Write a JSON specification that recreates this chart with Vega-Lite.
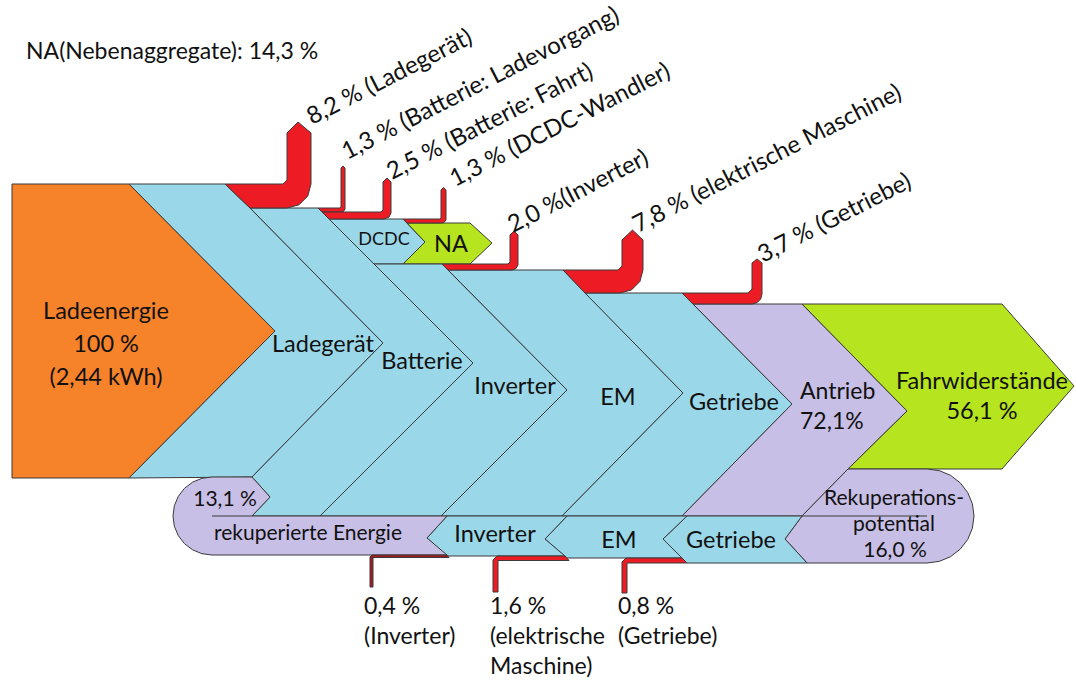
{
"$schema":"https://vega.github.io/schema/vega-lite/v6.json",
"width":1076,"height":682,"padding":0,
"autosize":{"type":"fit","contains":"padding"},
"background":"#ffffff",
"config":{"view":{"stroke":null},"text":{"font":"Lato","color":"#111111"}},
"datasets":{
"flaechen":[
{"s":"Ladeenergie","k":"Quelle","i":0,"x":12,"y":184},{"s":"Ladeenergie","k":"Quelle","i":1,"x":129,"y":184},{"s":"Ladeenergie","k":"Quelle","i":2,"x":275,"y":331},{"s":"Ladeenergie","k":"Quelle","i":3,"x":129,"y":478},{"s":"Ladeenergie","k":"Quelle","i":4,"x":12,"y":478},{"s":"Ladeenergie","k":"Quelle","i":5,"x":12,"y":184},
{"s":"Ladegeraet","k":"Komponente","i":0,"x":129,"y":184},{"s":"Ladegeraet","k":"Komponente","i":1,"x":225,"y":184},{"s":"Ladegeraet","k":"Komponente","i":2,"x":250,"y":208},{"s":"Ladegeraet","k":"Komponente","i":3,"x":383,"y":343},{"s":"Ladegeraet","k":"Komponente","i":4,"x":252,"y":477},{"s":"Ladegeraet","k":"Komponente","i":5,"x":129,"y":478},{"s":"Ladegeraet","k":"Komponente","i":6,"x":275,"y":331},{"s":"Ladegeraet","k":"Komponente","i":7,"x":129,"y":184},
{"s":"Batterie","k":"Komponente","i":0,"x":250,"y":208},{"s":"Batterie","k":"Komponente","i":1,"x":318,"y":208},{"s":"Batterie","k":"Komponente","i":2,"x":473,"y":363},{"s":"Batterie","k":"Komponente","i":3,"x":320,"y":516},{"s":"Batterie","k":"Komponente","i":4,"x":252,"y":516},{"s":"Batterie","k":"Komponente","i":5,"x":270,"y":497},{"s":"Batterie","k":"Komponente","i":6,"x":252,"y":477},{"s":"Batterie","k":"Komponente","i":7,"x":383,"y":343},{"s":"Batterie","k":"Komponente","i":8,"x":250,"y":208},
{"s":"DCDC","k":"Komponente","i":0,"x":329,"y":219},{"s":"DCDC","k":"Komponente","i":1,"x":403,"y":219},{"s":"DCDC","k":"Komponente","i":2,"x":425,"y":242},{"s":"DCDC","k":"Komponente","i":3,"x":403,"y":264},{"s":"DCDC","k":"Komponente","i":4,"x":374,"y":264},{"s":"DCDC","k":"Komponente","i":5,"x":329,"y":219},
{"s":"NA","k":"Nutzen","i":0,"x":407,"y":223},{"s":"NA","k":"Nutzen","i":1,"x":470,"y":223},{"s":"NA","k":"Nutzen","i":2,"x":492,"y":243},{"s":"NA","k":"Nutzen","i":3,"x":470,"y":264},{"s":"NA","k":"Nutzen","i":4,"x":403,"y":264},{"s":"NA","k":"Nutzen","i":5,"x":425,"y":242},{"s":"NA","k":"Nutzen","i":6,"x":407,"y":223},
{"s":"Inverter","k":"Komponente","i":0,"x":374,"y":264},{"s":"Inverter","k":"Komponente","i":1,"x":442,"y":264},{"s":"Inverter","k":"Komponente","i":2,"x":567,"y":390},{"s":"Inverter","k":"Komponente","i":3,"x":441,"y":516},{"s":"Inverter","k":"Komponente","i":4,"x":320,"y":516},{"s":"Inverter","k":"Komponente","i":5,"x":473,"y":363},{"s":"Inverter","k":"Komponente","i":6,"x":374,"y":264},
{"s":"EM","k":"Komponente","i":0,"x":448,"y":270},{"s":"EM","k":"Komponente","i":1,"x":563,"y":270},{"s":"EM","k":"Komponente","i":2,"x":683,"y":393},{"s":"EM","k":"Komponente","i":3,"x":562,"y":516},{"s":"EM","k":"Komponente","i":4,"x":441,"y":516},{"s":"EM","k":"Komponente","i":5,"x":567,"y":390},{"s":"EM","k":"Komponente","i":6,"x":448,"y":270},
{"s":"Getriebe","k":"Komponente","i":0,"x":585,"y":293},{"s":"Getriebe","k":"Komponente","i":1,"x":682,"y":293},{"s":"Getriebe","k":"Komponente","i":2,"x":792,"y":404},{"s":"Getriebe","k":"Komponente","i":3,"x":682,"y":516},{"s":"Getriebe","k":"Komponente","i":4,"x":562,"y":516},{"s":"Getriebe","k":"Komponente","i":5,"x":683,"y":393},{"s":"Getriebe","k":"Komponente","i":6,"x":585,"y":293},
{"s":"Antrieb","k":"Antrieb","i":0,"x":693,"y":304},{"s":"Antrieb","k":"Antrieb","i":1,"x":802,"y":304},{"s":"Antrieb","k":"Antrieb","i":2,"x":907,"y":411},{"s":"Antrieb","k":"Antrieb","i":3,"x":848,"y":469},{"s":"Antrieb","k":"Antrieb","i":4,"x":802,"y":516},{"s":"Antrieb","k":"Antrieb","i":5,"x":682,"y":516},{"s":"Antrieb","k":"Antrieb","i":6,"x":792,"y":404},{"s":"Antrieb","k":"Antrieb","i":7,"x":693,"y":304},
{"s":"Fahrwiderstaende","k":"Nutzen","i":0,"x":802,"y":304},{"s":"Fahrwiderstaende","k":"Nutzen","i":1,"x":1002,"y":304},{"s":"Fahrwiderstaende","k":"Nutzen","i":2,"x":1074,"y":386},{"s":"Fahrwiderstaende","k":"Nutzen","i":3,"x":1002,"y":469},{"s":"Fahrwiderstaende","k":"Nutzen","i":4,"x":848,"y":469},{"s":"Fahrwiderstaende","k":"Nutzen","i":5,"x":907,"y":411},{"s":"Fahrwiderstaende","k":"Nutzen","i":6,"x":802,"y":304},
{"s":"Rekuperationspotential","k":"Antrieb","i":0,"x":848,"y":469},{"s":"Rekuperationspotential","k":"Antrieb","i":1,"x":927,"y":469},{"s":"Rekuperationspotential","k":"Antrieb","i":2,"x":939.2,"y":470.6},{"s":"Rekuperationspotential","k":"Antrieb","i":3,"x":950.5,"y":475.3},{"s":"Rekuperationspotential","k":"Antrieb","i":4,"x":960.2,"y":482.8},{"s":"Rekuperationspotential","k":"Antrieb","i":5,"x":967.7,"y":492.5},{"s":"Rekuperationspotential","k":"Antrieb","i":6,"x":972.4,"y":503.8},{"s":"Rekuperationspotential","k":"Antrieb","i":7,"x":974,"y":516},{"s":"Rekuperationspotential","k":"Antrieb","i":8,"x":972.4,"y":528.2},{"s":"Rekuperationspotential","k":"Antrieb","i":9,"x":967.7,"y":539.5},{"s":"Rekuperationspotential","k":"Antrieb","i":10,"x":960.2,"y":549.2},{"s":"Rekuperationspotential","k":"Antrieb","i":11,"x":950.5,"y":556.7},{"s":"Rekuperationspotential","k":"Antrieb","i":12,"x":939.2,"y":561.4},{"s":"Rekuperationspotential","k":"Antrieb","i":13,"x":927,"y":563},{"s":"Rekuperationspotential","k":"Antrieb","i":14,"x":807,"y":563},{"s":"Rekuperationspotential","k":"Antrieb","i":15,"x":785,"y":539},{"s":"Rekuperationspotential","k":"Antrieb","i":16,"x":802,"y":516},{"s":"Rekuperationspotential","k":"Antrieb","i":17,"x":848,"y":469},
{"s":"GetriebeR","k":"Komponente","i":0,"x":687,"y":516},{"s":"GetriebeR","k":"Komponente","i":1,"x":802,"y":516},{"s":"GetriebeR","k":"Komponente","i":2,"x":785,"y":539},{"s":"GetriebeR","k":"Komponente","i":3,"x":807,"y":563},{"s":"GetriebeR","k":"Komponente","i":4,"x":687,"y":563},{"s":"GetriebeR","k":"Komponente","i":5,"x":663,"y":539},{"s":"GetriebeR","k":"Komponente","i":6,"x":687,"y":516},
{"s":"EMR","k":"Komponente","i":0,"x":567,"y":516},{"s":"EMR","k":"Komponente","i":1,"x":687,"y":516},{"s":"EMR","k":"Komponente","i":2,"x":663,"y":539},{"s":"EMR","k":"Komponente","i":3,"x":682,"y":558},{"s":"EMR","k":"Komponente","i":4,"x":567,"y":558},{"s":"EMR","k":"Komponente","i":5,"x":545,"y":539},{"s":"EMR","k":"Komponente","i":6,"x":567,"y":516},
{"s":"InverterR","k":"Komponente","i":0,"x":447,"y":516},{"s":"InverterR","k":"Komponente","i":1,"x":567,"y":516},{"s":"InverterR","k":"Komponente","i":2,"x":545,"y":539},{"s":"InverterR","k":"Komponente","i":3,"x":565,"y":556},{"s":"InverterR","k":"Komponente","i":4,"x":447,"y":556},{"s":"InverterR","k":"Komponente","i":5,"x":427,"y":538},{"s":"InverterR","k":"Komponente","i":6,"x":447,"y":516},
{"s":"RekupEnergie","k":"Antrieb","i":0,"x":252,"y":477},{"s":"RekupEnergie","k":"Antrieb","i":1,"x":270,"y":497},{"s":"RekupEnergie","k":"Antrieb","i":2,"x":252,"y":516},{"s":"RekupEnergie","k":"Antrieb","i":3,"x":447,"y":516},{"s":"RekupEnergie","k":"Antrieb","i":4,"x":427,"y":538},{"s":"RekupEnergie","k":"Antrieb","i":5,"x":447,"y":555},{"s":"RekupEnergie","k":"Antrieb","i":6,"x":212,"y":555},{"s":"RekupEnergie","k":"Antrieb","i":7,"x":201.9,"y":553.7},{"s":"RekupEnergie","k":"Antrieb","i":8,"x":192.5,"y":549.8},{"s":"RekupEnergie","k":"Antrieb","i":9,"x":184.4,"y":543.6},{"s":"RekupEnergie","k":"Antrieb","i":10,"x":178.2,"y":535.5},{"s":"RekupEnergie","k":"Antrieb","i":11,"x":174.3,"y":526.1},{"s":"RekupEnergie","k":"Antrieb","i":12,"x":173,"y":516},{"s":"RekupEnergie","k":"Antrieb","i":13,"x":174.3,"y":505.9},{"s":"RekupEnergie","k":"Antrieb","i":14,"x":178.2,"y":496.5},{"s":"RekupEnergie","k":"Antrieb","i":15,"x":184.4,"y":488.4},{"s":"RekupEnergie","k":"Antrieb","i":16,"x":192.5,"y":482.2},{"s":"RekupEnergie","k":"Antrieb","i":17,"x":201.9,"y":478.3},{"s":"RekupEnergie","k":"Antrieb","i":18,"x":212,"y":477},{"s":"RekupEnergie","k":"Antrieb","i":19,"x":252,"y":477}
],
"verluste":[
{"s":"V1","k":"Verlust","i":0,"x":225,"y":184},{"s":"V1","k":"Verlust","i":1,"x":283,"y":184},{"s":"V1","k":"Verlust","i":2,"x":287,"y":180},{"s":"V1","k":"Verlust","i":3,"x":287,"y":133},{"s":"V1","k":"Verlust","i":4,"x":298,"y":122},{"s":"V1","k":"Verlust","i":5,"x":311,"y":133},{"s":"V1","k":"Verlust","i":6,"x":311,"y":184},{"s":"V1","k":"Verlust","i":7,"x":307.8,"y":196},{"s":"V1","k":"Verlust","i":8,"x":299,"y":204.8},{"s":"V1","k":"Verlust","i":9,"x":287,"y":208},{"s":"V1","k":"Verlust","i":10,"x":250,"y":208},{"s":"V1","k":"Verlust","i":11,"x":225,"y":184},
{"s":"V2","k":"Verlust","i":0,"x":318,"y":208},{"s":"V2","k":"Verlust","i":1,"x":340,"y":208},{"s":"V2","k":"Verlust","i":2,"x":341,"y":207},{"s":"V2","k":"Verlust","i":3,"x":341,"y":168},{"s":"V2","k":"Verlust","i":4,"x":343,"y":166},{"s":"V2","k":"Verlust","i":5,"x":345,"y":168},{"s":"V2","k":"Verlust","i":6,"x":345,"y":209},{"s":"V2","k":"Verlust","i":7,"x":343.5,"y":211.5},{"s":"V2","k":"Verlust","i":8,"x":340,"y":212},{"s":"V2","k":"Verlust","i":9,"x":322,"y":212},{"s":"V2","k":"Verlust","i":10,"x":318,"y":208},
{"s":"V3","k":"Verlust","i":0,"x":322,"y":212},{"s":"V3","k":"Verlust","i":1,"x":381,"y":212},{"s":"V3","k":"Verlust","i":2,"x":383,"y":210},{"s":"V3","k":"Verlust","i":3,"x":383,"y":182},{"s":"V3","k":"Verlust","i":4,"x":387,"y":178},{"s":"V3","k":"Verlust","i":5,"x":391,"y":182},{"s":"V3","k":"Verlust","i":6,"x":391,"y":213},{"s":"V3","k":"Verlust","i":7,"x":389,"y":217},{"s":"V3","k":"Verlust","i":8,"x":384,"y":219},{"s":"V3","k":"Verlust","i":9,"x":329,"y":219},{"s":"V3","k":"Verlust","i":10,"x":322,"y":212},
{"s":"V4","k":"Verlust","i":0,"x":403,"y":219},{"s":"V4","k":"Verlust","i":1,"x":440,"y":219},{"s":"V4","k":"Verlust","i":2,"x":441,"y":218},{"s":"V4","k":"Verlust","i":3,"x":441,"y":190},{"s":"V4","k":"Verlust","i":4,"x":443.5,"y":187.5},{"s":"V4","k":"Verlust","i":5,"x":446,"y":190},{"s":"V4","k":"Verlust","i":6,"x":446,"y":220},{"s":"V4","k":"Verlust","i":7,"x":444,"y":222.5},{"s":"V4","k":"Verlust","i":8,"x":441,"y":223},{"s":"V4","k":"Verlust","i":9,"x":407,"y":223},{"s":"V4","k":"Verlust","i":10,"x":403,"y":219},
{"s":"V5","k":"Verlust","i":0,"x":442,"y":264},{"s":"V5","k":"Verlust","i":1,"x":508,"y":264},{"s":"V5","k":"Verlust","i":2,"x":510,"y":262},{"s":"V5","k":"Verlust","i":3,"x":510,"y":235},{"s":"V5","k":"Verlust","i":4,"x":514,"y":231},{"s":"V5","k":"Verlust","i":5,"x":518,"y":235},{"s":"V5","k":"Verlust","i":6,"x":518,"y":265},{"s":"V5","k":"Verlust","i":7,"x":516,"y":268.5},{"s":"V5","k":"Verlust","i":8,"x":512,"y":270},{"s":"V5","k":"Verlust","i":9,"x":448,"y":270},{"s":"V5","k":"Verlust","i":10,"x":442,"y":264},
{"s":"V6","k":"Verlust","i":0,"x":563,"y":270},{"s":"V6","k":"Verlust","i":1,"x":618,"y":270},{"s":"V6","k":"Verlust","i":2,"x":622,"y":266},{"s":"V6","k":"Verlust","i":3,"x":622,"y":240},{"s":"V6","k":"Verlust","i":4,"x":632.5,"y":230},{"s":"V6","k":"Verlust","i":5,"x":643,"y":240},{"s":"V6","k":"Verlust","i":6,"x":643,"y":270},{"s":"V6","k":"Verlust","i":7,"x":639.9,"y":281.5},{"s":"V6","k":"Verlust","i":8,"x":631.5,"y":289.9},{"s":"V6","k":"Verlust","i":9,"x":620,"y":293},{"s":"V6","k":"Verlust","i":10,"x":585,"y":293},{"s":"V6","k":"Verlust","i":11,"x":563,"y":270},
{"s":"V7","k":"Verlust","i":0,"x":682,"y":293},{"s":"V7","k":"Verlust","i":1,"x":748,"y":293},{"s":"V7","k":"Verlust","i":2,"x":752,"y":289},{"s":"V7","k":"Verlust","i":3,"x":752,"y":263},{"s":"V7","k":"Verlust","i":4,"x":757,"y":259},{"s":"V7","k":"Verlust","i":5,"x":762,"y":263},{"s":"V7","k":"Verlust","i":6,"x":762,"y":294},{"s":"V7","k":"Verlust","i":7,"x":760.7,"y":299},{"s":"V7","k":"Verlust","i":8,"x":757,"y":302.7},{"s":"V7","k":"Verlust","i":9,"x":752,"y":304},{"s":"V7","k":"Verlust","i":10,"x":693,"y":304},{"s":"V7","k":"Verlust","i":11,"x":682,"y":293},
{"s":"V8","k":"Verlust klein","i":0,"x":370,"y":587},{"s":"V8","k":"Verlust klein","i":1,"x":370,"y":557},{"s":"V8","k":"Verlust klein","i":2,"x":372,"y":555},{"s":"V8","k":"Verlust klein","i":3,"x":447,"y":555},{"s":"V8","k":"Verlust klein","i":4,"x":449,"y":557.5},{"s":"V8","k":"Verlust klein","i":5,"x":373,"y":557.5},{"s":"V8","k":"Verlust klein","i":6,"x":373,"y":587},{"s":"V8","k":"Verlust klein","i":7,"x":370,"y":587},
{"s":"V9","k":"Verlust","i":0,"x":493,"y":592},{"s":"V9","k":"Verlust","i":1,"x":493,"y":560},{"s":"V9","k":"Verlust","i":2,"x":497,"y":556},{"s":"V9","k":"Verlust","i":3,"x":565,"y":556},{"s":"V9","k":"Verlust","i":4,"x":569,"y":560.5},{"s":"V9","k":"Verlust","i":5,"x":498,"y":560.5},{"s":"V9","k":"Verlust","i":6,"x":498,"y":592},{"s":"V9","k":"Verlust","i":7,"x":493,"y":592},
{"s":"V10","k":"Verlust","i":0,"x":622,"y":593},{"s":"V10","k":"Verlust","i":1,"x":622,"y":562},{"s":"V10","k":"Verlust","i":2,"x":626,"y":558},{"s":"V10","k":"Verlust","i":3,"x":682,"y":558},{"s":"V10","k":"Verlust","i":4,"x":687,"y":563},{"s":"V10","k":"Verlust","i":5,"x":627,"y":563},{"s":"V10","k":"Verlust","i":6,"x":627,"y":593},{"s":"V10","k":"Verlust","i":7,"x":622,"y":593}
],
"linien":[
{"s":"L1","i":0,"x":212,"y":516},{"s":"L1","i":1,"x":252,"y":516},
{"s":"L2","i":0,"x":802,"y":516},{"s":"L2","i":1,"x":927,"y":516}
],
"texte":[
{"g":"haupt","t":"Ladeenergie","x":106,"y":312},
{"g":"haupt","t":"100 %","x":106,"y":345},
{"g":"haupt","t":"(2,44 kWh)","x":106,"y":378},
{"g":"haupt","t":"Ladegerät","x":323,"y":345},
{"g":"haupt","t":"Batterie","x":422,"y":362},
{"g":"haupt","t":"Inverter","x":515,"y":387},
{"g":"haupt","t":"EM","x":618,"y":398},
{"g":"haupt","t":"Getriebe","x":734,"y":403},
{"g":"haupt","t":"Fahrwiderstände","x":982,"y":382},
{"g":"haupt","t":"56,1 %","x":982,"y":412},
{"g":"haupt","t":"NA","x":451,"y":245},
{"g":"haupt","t":"Inverter","x":495,"y":535},
{"g":"haupt","t":"EM","x":619,"y":541},
{"g":"haupt","t":"Getriebe","x":731,"y":541},
{"g":"mittel","t":"rekuperierte Energie","x":308,"y":534},
{"g":"links","t":"NA(Nebenaggregate): 14,3 %","x":26,"y":52},
{"g":"links","t":"Antrieb","x":800,"y":392},
{"g":"links","t":"72,1%","x":800,"y":422},
{"g":"links","t":"0,4 %","x":364,"y":607},
{"g":"links","t":"(Inverter)","x":364,"y":637},
{"g":"links","t":"1,6 %","x":490,"y":607},
{"g":"links","t":"(elektrische","x":490,"y":637},
{"g":"links","t":"Maschine)","x":490,"y":667},
{"g":"links","t":"0,8 %","x":618,"y":607},
{"g":"links","t":"(Getriebe)","x":618,"y":637},
{"g":"dcdc","t":"DCDC","x":384,"y":240},
{"g":"mittel","t":"13,1 %","x":225,"y":500},
{"g":"mittel","t":"Rekuperations-","x":894,"y":499},
{"g":"mittel","t":"potential","x":894,"y":525},
{"g":"mittel","t":"16,0 %","x":895,"y":551},
{"g":"rot","t":"8,2 % (Ladegerät)","x":312,"y":125},
{"g":"rot","t":"1,3 % (Batterie: Ladevorgang)","x":347,"y":160},
{"g":"rot","t":"2,5 % (Batterie: Fahrt)","x":392,"y":180},
{"g":"rot","t":"1,3 % (DCDC-Wandler)","x":455,"y":187},
{"g":"rot","t":"2,0 %(Inverter)","x":513,"y":233},
{"g":"rot","t":"7,8 % (elektrische Maschine)","x":638,"y":233},
{"g":"rot","t":"3,7 % (Getriebe)","x":763,"y":263}
]
},
"encoding":{
"x":{"field":"x","type":"quantitative","scale":{"domain":[0,1076],"nice":false,"zero":false},"axis":null},
"y":{"field":"y","type":"quantitative","scale":{"domain":[0,682],"nice":false,"zero":false,"reverse":true},"axis":null}
},
"layer":[
{"data":{"name":"flaechen"},
 "mark":{"type":"line","stroke":"#3a3a3a","strokeWidth":1,"strokeJoin":"miter"},
 "encoding":{"detail":{"field":"s","type":"nominal"},"order":{"field":"i","type":"quantitative"},
  "fill":{"field":"k","type":"nominal","legend":null,"scale":{"domain":["Quelle","Komponente","Antrieb","Nutzen","Verlust","Verlust klein"],"range":["#F6822A","#9AD8E9","#C8BFE6","#B6E41E","#ED1C24","#A3191F"]}}}},
{"data":{"name":"linien"},
 "mark":{"type":"line","stroke":"#3a3a3a","strokeWidth":1},
 "encoding":{"detail":{"field":"s","type":"nominal"},"order":{"field":"i","type":"quantitative"}}},
{"data":{"name":"verluste"},
 "mark":{"type":"line","stroke":"#3a3a3a","strokeWidth":1,"strokeJoin":"miter"},
 "encoding":{"detail":{"field":"s","type":"nominal"},"order":{"field":"i","type":"quantitative"},
  "fill":{"field":"k","type":"nominal","legend":null,"scale":{"domain":["Quelle","Komponente","Antrieb","Nutzen","Verlust","Verlust klein"],"range":["#F6822A","#9AD8E9","#C8BFE6","#B6E41E","#ED1C24","#A3191F"]}}}},
{"data":{"name":"texte"},"transform":[{"filter":"datum.g == 'haupt'"}],
 "mark":{"type":"text","fontSize":23.5,"align":"center","baseline":"middle"},
 "encoding":{"text":{"field":"t"}}},
{"data":{"name":"texte"},"transform":[{"filter":"datum.g == 'links'"}],
 "mark":{"type":"text","fontSize":23,"align":"left","baseline":"middle"},
 "encoding":{"text":{"field":"t"}}},
{"data":{"name":"texte"},"transform":[{"filter":"datum.g == 'mittel'"}],
 "mark":{"type":"text","fontSize":21,"align":"center","baseline":"middle"},
 "encoding":{"text":{"field":"t"}}},
{"data":{"name":"texte"},"transform":[{"filter":"datum.g == 'dcdc'"}],
 "mark":{"type":"text","fontSize":18,"align":"center","baseline":"middle"},
 "encoding":{"text":{"field":"t"}}},
{"data":{"name":"texte"},"transform":[{"filter":"datum.g == 'rot'"}],
 "mark":{"type":"text","fontSize":24,"align":"left","baseline":"alphabetic","angle":-27},
 "encoding":{"text":{"field":"t"}}}
]
}
